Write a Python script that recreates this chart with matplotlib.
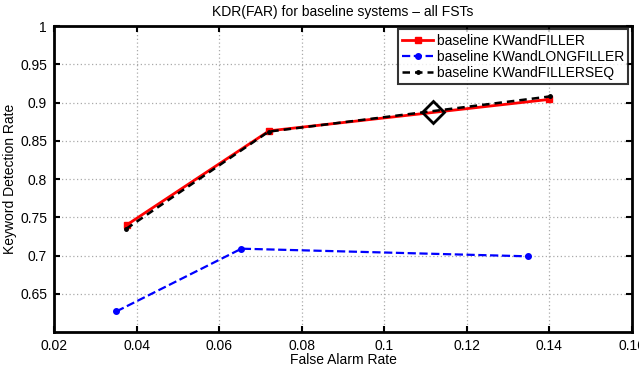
import matplotlib
matplotlib.use("Agg")
from matplotlib import pyplot as plt

plt.rcParams['font.family'] = ['Liberation Sans', 'DejaVu Sans']

# KWandFILLER
far_filler = [0.0376, 0.0721, 0.1398]
kdr_filler = [0.740, 0.863, 0.904]
# KWandLONGFILLER
far_long = [0.0351, 0.0654, 0.1349]
kdr_long = [0.627, 0.709, 0.699]
# KWandFILLERSEQ
far_seq = [0.0375, 0.0720, 0.1402]
kdr_seq = [0.735, 0.862, 0.908]
# highlighted point
far_mark = [0.1117]
kdr_mark = [0.888]

xticks = [0.02, 0.04, 0.06, 0.08, 0.1, 0.12, 0.14, 0.16]
xlabels = ['0.02', '0.04', '0.06', '0.08', '0.1', '0.12', '0.14', '0.16']
yticks = [0.65, 0.7, 0.75, 0.8, 0.85, 0.9, 0.95, 1.0]
ylabels = ['0.65', '0.7', '0.75', '0.8', '0.85', '0.9', '0.95', '1']

fs = 10

fig = plt.figure(figsize=(6.39, 3.69), dpi=100)
ax = fig.add_axes([0.0845, 0.1, 0.9045, 0.8295])

ax.plot(far_filler, kdr_filler, '-s', color='red', lw=2, ms=4,
        label='baseline KWandFILLER', zorder=4)
ax.plot(far_long, kdr_long, '--o', color='blue', lw=1.6, ms=4,
        label='baseline KWandLONGFILLER', zorder=3)
ax.plot(far_seq, kdr_seq, '--', marker='.', color='black', lw=1.8, ms=5,
        dashes=(3, 2), label='baseline KWandFILLERSEQ', zorder=5)
ax.plot(far_mark, kdr_mark, 'D', mfc='none', mec='black', mew=2, ms=11, zorder=6)

ax.set_xlim(0.02, 0.16)
ax.set_ylim(0.6, 1.0)
ax.set_xticks(xticks)
ax.set_xticklabels(xlabels)
ax.set_yticks(yticks)
ax.set_yticklabels(ylabels)
ax.grid(True, linestyle=(0, (1, 2)), color='#aaaaaa', lw=0.9)
ax.tick_params(direction='in', top=True, right=True, length=4, width=1.5,
               labelsize=fs, pad=5)
for s in ax.spines.values():
    s.set_linewidth(2)

ax.set_title('KDR(FAR) for baseline systems \u2013 all FSTs', fontsize=fs, pad=7)
ax.set_xlabel('False Alarm Rate', fontsize=fs, labelpad=0)
ax.set_ylabel('Keyword Detection Rate', fontsize=fs, labelpad=2)

leg = ax.legend(loc='upper right', fontsize=fs, frameon=True, fancybox=False,
                edgecolor='black', borderpad=0.3, labelspacing=0.15,
                handlelength=2.2, handletextpad=0.3, borderaxespad=0.25)
leg.get_frame().set_linewidth(1.5)

fig.savefig('out.png', dpi=100)
